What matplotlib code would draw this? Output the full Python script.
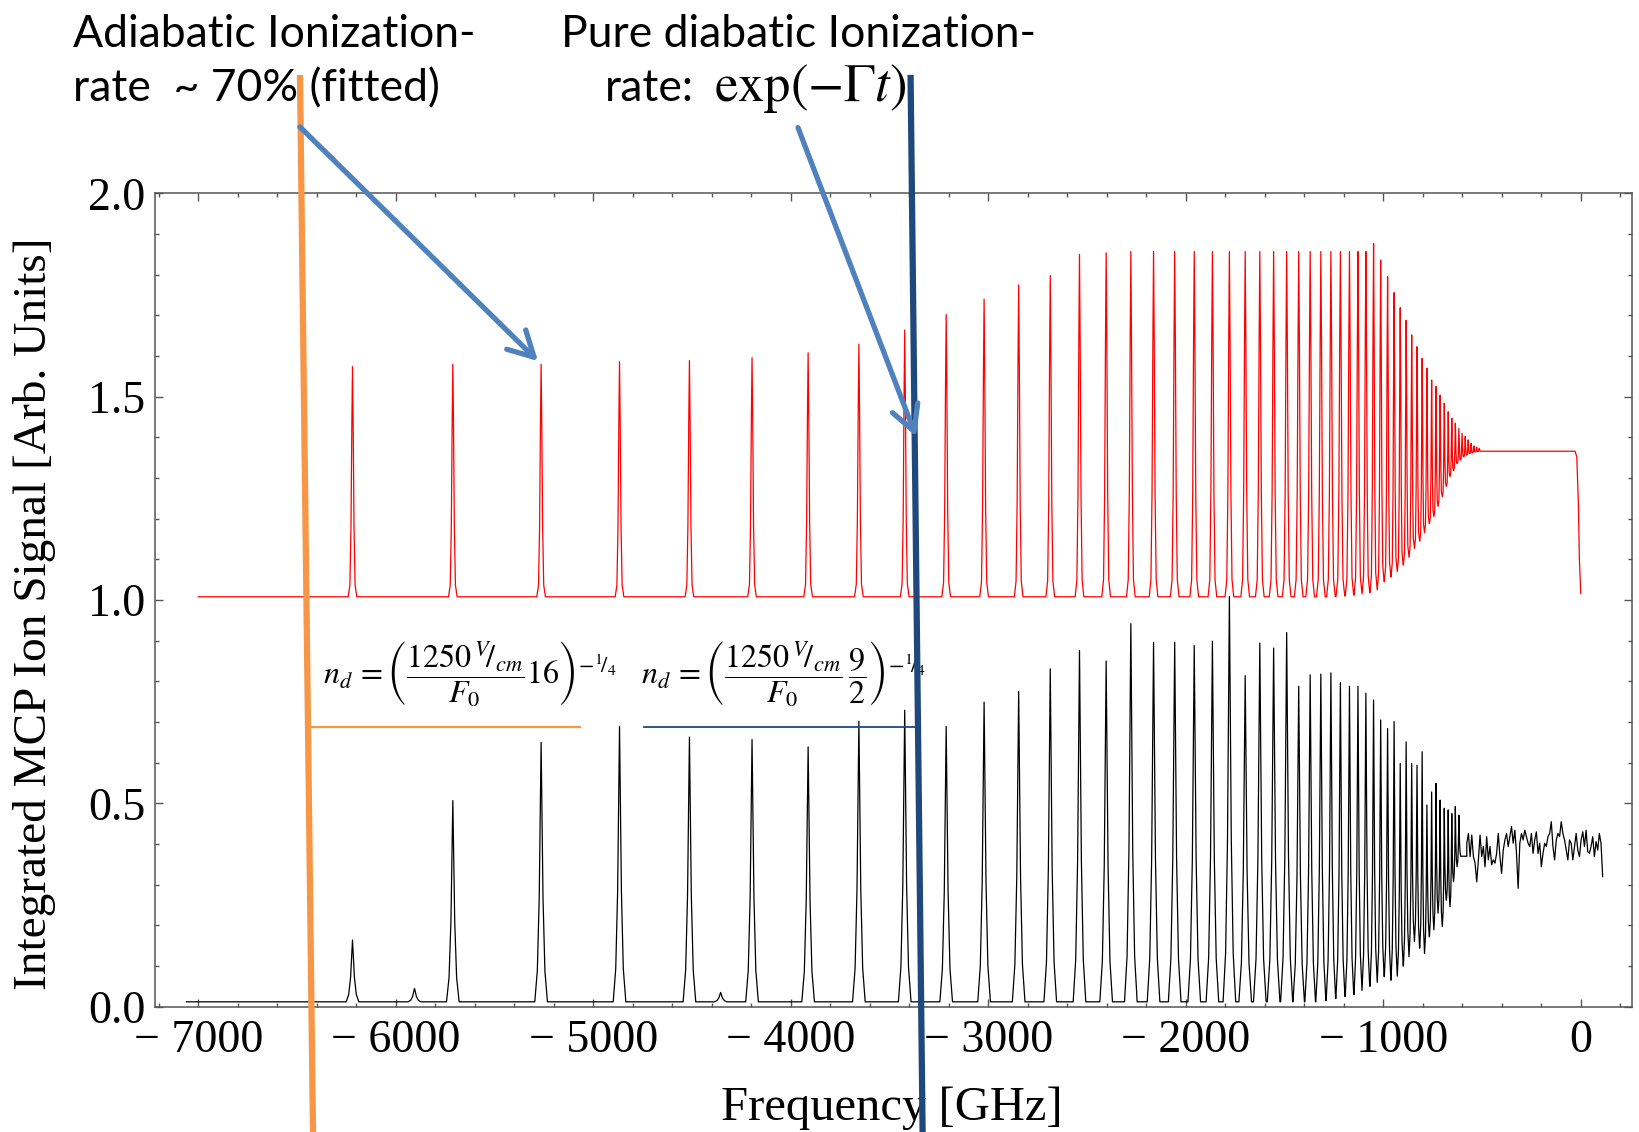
import numpy as np
import matplotlib
matplotlib.use('Agg')
import matplotlib.pyplot as plt
from matplotlib.lines import Line2D
from matplotlib.patches import FancyArrowPatch
from matplotlib.ticker import FixedLocator, MultipleLocator

plt.rcParams['mathtext.fontset'] = 'stix'

W, H = 1640, 1132

# peak positions (GHz), n = 23 ... 80
peak_pos = [-6219, -5711, -5264, -4867, -4513, -4196, -3912, -3655, -3423, -3213,
            -3021, -2846, -2686, -2538, -2403, -2278, -2163, -2056, -1957, -1865,
            -1779, -1699, -1625, -1555, -1489, -1428, -1370, -1316, -1265, -1217,
            -1171, -1128, -1088, -1049, -1013, -978, -945, -914, -884, -856,
            -829, -803, -779, -755, -733, -712, -691, -671, -653, -635,
            -617, -601, -585, -570, -555, -541, -527, -514]

# red (simulation) peak tops, n = 23 ... 80
red_top = [1.574, 1.580, 1.580, 1.586, 1.589, 1.596, 1.608, 1.629, 1.664, 1.702,
           1.740, 1.775, 1.798, 1.850, 1.854, 1.857, 1.857, 1.857, 1.857, 1.857,
           1.857, 1.857, 1.857, 1.857, 1.857, 1.857, 1.857, 1.857, 1.857, 1.857,
           1.857, 1.857, 1.857, 1.877, 1.836, 1.795, 1.756, 1.719, 1.688, 1.652,
           1.623, 1.594, 1.570, 1.541, 1.525, 1.504, 1.484, 1.463, 1.447, 1.435,
           1.422, 1.410, 1.402, 1.394, 1.385, 1.379, 1.376, 1.373]
# red levels between peaks (left of first, between each pair, right of last)
red_low = ([1.008] * 29 +
           [1.009, 1.010, 1.012, 1.015, 1.018, 1.025, 1.045, 1.057, 1.070, 1.086,
            1.105, 1.127, 1.145, 1.165, 1.188, 1.205, 1.230, 1.254, 1.280, 1.303,
            1.318, 1.336, 1.344, 1.352, 1.356, 1.360, 1.362, 1.364, 1.365, 1.366])
red_start = -7000
red_tail_x = [-29, -20, -12, -7, 0]
red_tail_y = [1.366, 1.352, 1.237, 1.102, 1.016]

# black (measured) peaks, n = 23 ... 73 plus two small bumps
blk_pos = [-6219, -5905, -5711, -5264, -4867, -4513, -4196, -4355, -3912, -3655,
           -3423, -3213, -3021, -2846, -2686, -2538, -2403, -2278, -2163, -2056,
           -1957, -1865, -1779, -1699, -1625, -1555, -1489, -1428, -1370, -1316,
           -1265, -1217, -1171, -1128, -1088, -1049, -1013, -978, -945, -914,
           -884, -856, -829, -803, -779, -755, -733, -712, -691, -671,
           -653, -635, -617]
blk_top = [0.164, 0.045, 0.507, 0.650, 0.689, 0.663, 0.657, 0.035, 0.639, 0.702,
           0.729, 0.689, 0.749, 0.775, 0.831, 0.876, 0.850, 0.942, 0.896, 0.896,
           0.888, 0.899, 1.009, 0.814, 0.894, 0.882, 0.920, 0.788, 0.816, 0.818,
           0.821, 0.797, 0.788, 0.788, 0.771, 0.754, 0.705, 0.684, 0.701, 0.598,
           0.651, 0.598, 0.594, 0.627, 0.496, 0.528, 0.549, 0.508, 0.488, 0.484,
           0.475, 0.492, 0.471]
blk_low = ([0.012] * 30 +
           [0.015, 0.020, 0.025, 0.030, 0.040, 0.050, 0.060, 0.074, 0.065, 0.075,
            0.100, 0.123, 0.160, 0.144, 0.131, 0.172, 0.189, 0.230, 0.197, 0.262,
            0.246, 0.308, 0.344, 0.370])
blk_start = -7060
# noisy continuum above the ionisation limit, -577 ... +111 GHz
blk_noise = [0.402, 0.426, 0.369, 0.422, 0.369, 0.353, 0.307, 0.361, 0.422, 0.369,
             0.394, 0.344, 0.418, 0.361, 0.394, 0.349, 0.361, 0.353, 0.377, 0.426,
             0.369, 0.328, 0.385, 0.410, 0.426, 0.394, 0.418, 0.443, 0.402, 0.434,
             0.377, 0.291, 0.402, 0.426, 0.410, 0.434, 0.418, 0.402, 0.394, 0.426,
             0.377, 0.410, 0.430, 0.377, 0.402, 0.344, 0.377, 0.402, 0.394, 0.418,
             0.426, 0.455, 0.394, 0.361, 0.410, 0.426, 0.418, 0.455, 0.426, 0.410,
             0.385, 0.361, 0.410, 0.402, 0.361, 0.394, 0.426, 0.385, 0.369, 0.410,
             0.430, 0.394, 0.434, 0.381, 0.377, 0.394, 0.418, 0.369, 0.406, 0.385,
             0.426, 0.402, 0.320]
noise_range = (-577, 111)

xtick_vals = [-7000, -6000, -5000, -4000, -3000, -2000, -1000, 0]
xtick_text = ['\u2212 7000', '\u2212 6000', '\u2212 5000', '\u2212 4000',
              '\u2212 3000', '\u2212 2000', '\u2212 1000', '0']
ytick_vals = [0.0, 0.5, 1.0, 1.5, 2.0]
ytick_text = ['0.0', '0.5', '1.0', '1.5', '2.0']


def peak_trace(x_start, x_end, pos, top, low, half, off, frac):
    # polyline valley -> peak -> valley for every line of the series
    order = np.argsort(pos)
    pos = [pos[k] for k in order]
    top = [top[k] for k in order]
    xs, ys = [x_start], [low[0]]
    n = len(pos)
    for i in range(n):
        p, h = pos[i], top[i]
        w = half
        if i > 0:
            w = min(w, (p - pos[i - 1]) / 2)
        if i < n - 1:
            w = min(w, (pos[i + 1] - p) / 2)
        for o, f in zip(off, frac):
            xs.append(p + o * w)
            ys.append(low[i] + f * (h - low[i]))
        for o, f in zip(off[-2::-1], frac[-2::-1]):
            xs.append(p - o * w)
            ys.append(low[i + 1] + f * (h - low[i + 1]))
    xs.append(x_end)
    ys.append(low[-1])
    return xs, ys


fig = plt.figure(figsize=(W / 100, H / 100), dpi=100)
ax = fig.add_axes([155 / W, 1 - 1006.7 / H, 1476.7 / W, 813.3 / H])

rx, ry = peak_trace(red_start, red_tail_x[0], peak_pos, red_top, red_low, 22,
                    [-1, -0.6, -0.35, -0.15, 0], [0, 0.05, 0.3, 0.75, 1])
rx += red_tail_x[1:]
ry += red_tail_y[1:]
ax.plot(rx, ry, color='#ff0000', lw=0.9)

bx, by = peak_trace(blk_start, noise_range[0], blk_pos, blk_top, blk_low, 32,
                    [-1, -0.6, -0.3, -0.12, 0], [0, 0.12, 0.4, 0.75, 1])
bx += list(np.linspace(noise_range[0], noise_range[1], len(blk_noise)))
by += blk_noise
ax.plot(bx, by, color='black', lw=0.9)

# threshold markers under the formulas
ax.plot([-6429, -5067], [0.688, 0.688], color='#f79646', lw=1.6)
ax.plot([-4743, -3373], [0.688, 0.688], color='#1f497d', lw=1.3)

ax.set_xlim(-7219, 258)
ax.set_ylim(0, 2.0)
ax.xaxis.set_major_locator(FixedLocator(xtick_vals))
ax.set_xticklabels(xtick_text)
ax.xaxis.set_minor_locator(MultipleLocator(200))
ax.yaxis.set_major_locator(FixedLocator(ytick_vals))
ax.set_yticklabels(ytick_text)
ax.yaxis.set_minor_locator(MultipleLocator(0.1))
ax.tick_params(which='both', direction='in', top=True, right=True, color='#555555',
               width=1.0)
ax.tick_params(which='major', length=6, labelsize=33)
ax.tick_params(axis='x', which='major', pad=9)
ax.tick_params(axis='y', which='major', pad=7)
ax.tick_params(which='minor', length=3.2)
for lab in ax.get_xticklabels() + ax.get_yticklabels():
    lab.set_family('Liberation Serif')
for sp in ax.spines.values():
    sp.set_color('#555555')
    sp.set_linewidth(1.1)

fig.text(35 / W, 1 - 614 / H, 'Integrated MCP Ion Signal [Arb. Units]', rotation=90,
         ha='center', va='center', fontsize=34, family='Liberation Serif')
fig.text(892 / W, 1 - 1108 / H, 'Frequency [GHz]', ha='center', va='center',
         fontsize=35, family='Liberation Serif')

form1 = r'$n_d\,=\left(\dfrac{1250\,{}^{V}\!/_{cm}}{F_0}16\right)^{-{}^{1}\!/_{4}}$'
form2 = r'$n_d\,=\left(\dfrac{1250\,{}^{V}\!/_{cm}}{F_0}\,\dfrac{9}{2}\right)^{-{}^{1}\!/_{4}}$'
fig.text(470 / W, 1 - 674 / H, form1, ha='center', va='center', fontsize=23)
fig.text(784 / W, 1 - 674 / H, form2, ha='center', va='center', fontsize=23)

sans = ['Lato', 'DejaVu Sans']
fig.text(73 / W, 1 - 47 / H, 'Adiabatic Ionization-', fontsize=32, family=sans,
         va='baseline')
fig.text(73 / W, 1 - 101 / H, 'rate  ~ 70% (fitted)', fontsize=32, family=sans,
         va='baseline')
fig.text(561 / W, 1 - 47 / H, 'Pure diabatic Ionization-', fontsize=32, family=sans,
         va='baseline')
fig.text(605 / W, 1 - 101 / H, 'rate:', fontsize=32, family=sans, va='baseline')
fig.text(714 / W, 1 - 101 / H, r'$\exp(-\Gamma t)$', fontsize=38, va='baseline')


def fpx(x, y):
    return x / W, 1 - y / H


for (x0, y0, x1, y1, c) in [(300, 78, 313, 1132, '#f79646'),
                            (910.6, 78, 922.6, 1132, '#1f497d')]:
    a, b = fpx(x0, y0)
    c2, d = fpx(x1, y1)
    fig.add_artist(Line2D([a, c2], [b, d], transform=fig.transFigure, color=c,
                          lw=4.5, zorder=5))

for (x0, y0, x1, y1) in [(298, 125, 540, 363), (797, 125, 917, 439)]:
    fig.add_artist(FancyArrowPatch(fpx(x0, y0), fpx(x1, y1), transform=fig.transFigure,
                                   arrowstyle='->,head_length=1.2,head_width=0.65',
                                   mutation_scale=15, color='#4f81bd', lw=3.8,
                                   capstyle='round', joinstyle='round', zorder=6))

fig.savefig('out.png', dpi=100)
